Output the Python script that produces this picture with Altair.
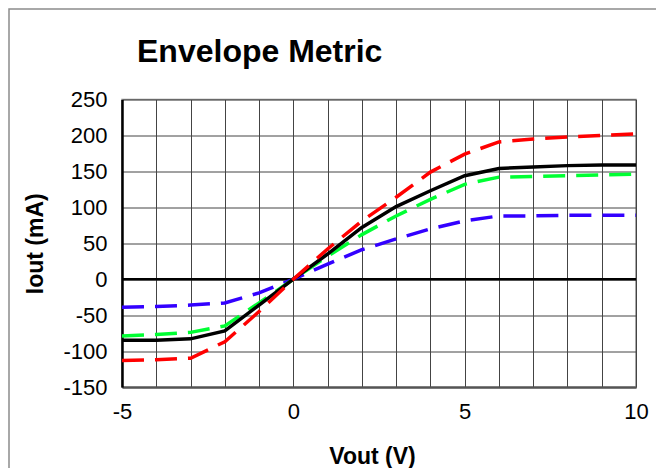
import altair as alt
import pandas as pd

vout = [-5, -4, -3, -2, -1, 0, 1, 2, 3, 4, 5, 6, 7, 8, 9, 10]
iout_black = [-85, -85, -83, -72, -36, 0, 35, 72, 101, 123, 144, 154, 156, 158, 159, 159]
iout_red = [-113, -112, -110, -87, -45, 0, 42, 81, 114, 149, 174, 191, 195, 198, 200, 202]
iout_green = [-79, -77, -74, -65, -33, 0, 32, 62, 88, 111, 132, 142, 143, 144, 145, 146]
iout_blue = [-39, -38, -36, -33, -19, 0, 21, 41, 56, 70, 81, 88, 88, 89, 89, 89]

x_grid = list(range(-5, 11))
y_ticks = [-150, -100, -50, 0, 50, 100, 150, 200, 250]
chart_title = "Envelope Metric"

series = [
    ("blue", iout_blue, "#3300FF", [22, 11]),
    ("green", iout_green, "#00FF33", [22, 11]),
    ("black", iout_black, "#000000", None),
    ("red", iout_red, "#FF0000", [22, 11]),
]

rows = []
for name, vals, _, _ in series:
    for xv, yv in zip(vout, vals):
        rows.append({"series": name, "Vout": xv, "Iout": yv})
df = pd.DataFrame(rows)

FONT = "Liberation Sans"

x_enc = alt.X(
    "Vout:Q",
    scale=alt.Scale(domain=[-5, 10], nice=False, zero=False),
    axis=alt.Axis(
        values=x_grid,
        labelExpr="datum.value % 5 === 0 ? toString(datum.value) : ''",
        labelFlush=False,
        labelOverlap=False,
        title="Vout (V)",
        titleX=250,
        titleY=76,
        titleAlign="center",
        titleBaseline="alphabetic",
        labelPadding=14,
        domainColor="#555555",
        domainWidth=2,
    ),
)
y_enc = alt.Y(
    "Iout:Q",
    scale=alt.Scale(domain=[-150, 250], nice=False, zero=False),
    axis=alt.Axis(
        values=y_ticks,
        labelExpr="toString(datum.value)",
        labelFlush=False,
        labelOverlap=False,
        title="Iout (mA)",
        titleX=-80,
        titleY=143.75,
        titleAngle=270,
        titleAlign="center",
        titleBaseline="alphabetic",
        labelPadding=15,
        domainColor="#000000",
        domainWidth=2.5,
    ),
)

layers = []
# zero line
layers.append(
    alt.Chart(pd.DataFrame({"Iout": [0]}))
    .mark_rule(color="black", strokeWidth=2.5)
    .encode(y=y_enc)
)
for name, vals, color, dash in series:
    kw = dict(color=color, strokeWidth=3.5, clip=True)
    if dash:
        kw["strokeDash"] = dash
    layers.append(
        alt.Chart(df)
        .transform_filter(alt.datum.series == name)
        .mark_line(**kw)
        .encode(x=x_enc, y=y_enc)
    )
# outer chart frame
layers.append(
    alt.Chart(pd.DataFrame({"a": [0]}))
    .mark_rect(fill="transparent", stroke="#8c8c8c", strokeWidth=1.5)
    .encode(
        x=alt.value(-113),
        y=alt.value(-90.5),
        x2=alt.value(1500),
        y2=alt.value(1500),
    )
)
# chart title
layers.append(
    alt.Chart(pd.DataFrame({"t": [chart_title]}))
    .mark_text(
        font=FONT,
        fontSize=32,
        fontWeight="bold",
        color="black",
        align="left",
        baseline="alphabetic",
    )
    .encode(x=alt.value(15), y=alt.value(-37.5), text="t:N")
)

chart = (
    alt.layer(*layers)
    .properties(
        width=514,
        height=287.5,
        autosize=alt.AutoSizeParams(type="none"),
        padding={"left": 114, "top": 91.5, "right": 20, "bottom": 81},
        background="white",
    )
    .configure_view(stroke="#8c8c8c", strokeWidth=1.5)
    .configure_axis(
        grid=True,
        gridColor="#444444",
        gridWidth=1,
        gridOpacity=1,
        ticks=False,
        tickSize=0,
        labelFont=FONT,
        labelFontSize=22,
        labelColor="black",
        titleFont=FONT,
        titleFontSize=23,
        titleFontWeight="bold",
        titleColor="black",
    )
)

chart.save("out.html", embed_options={"renderer": "svg", "actions": False})
